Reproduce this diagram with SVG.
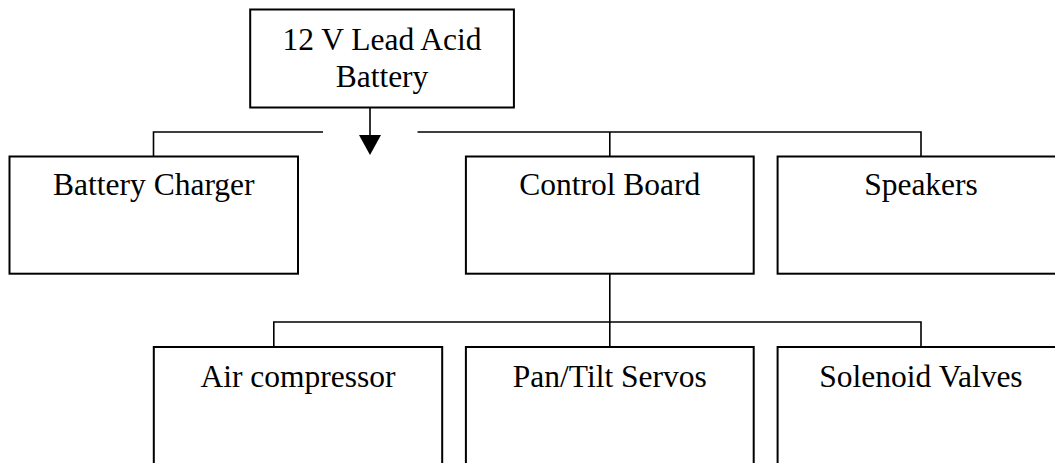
<svg xmlns="http://www.w3.org/2000/svg" width="1055" height="463" viewBox="0 0 1055 463">
<style>
.box{fill:#fff;stroke:#000;stroke-width:2}
.ln{fill:none;stroke:#000;stroke-width:1.6}
text{font-family:"Liberation Serif","Times New Roman",serif;font-size:31.5px;fill:#000;text-anchor:middle}
</style>
<rect width="1055" height="463" fill="#fff"/>
<g id="connectors">
<line class="ln" x1="370" y1="107.5" x2="370" y2="136"/>
<polygon points="359,135 381,135 370,155" fill="#000"/>
<polyline class="ln" points="153.5,156.5 153.5,132 323,132"/>
<polyline class="ln" points="417.5,132 921,132 921,156.5"/>
<line class="ln" x1="609.8" y1="132" x2="609.8" y2="156.5"/>
<line class="ln" x1="609.8" y1="273.7" x2="609.8" y2="347"/>
<polyline class="ln" points="273.8,347 273.8,322 921,322 921,347"/>
</g>
<g id="battery">
<rect class="box" x="250.2" y="9.5" width="263.7" height="98"/>
<text x="382" y="50">12 V Lead Acid</text>
<text x="382" y="87.2">Battery</text>
</g>
<g id="charger">
<rect class="box" x="9.5" y="156.5" width="288.5" height="117.2"/>
<text x="153.8" y="195.4">Battery Charger</text>
</g>
<g id="control">
<rect class="box" x="465.9" y="156.5" width="287.8" height="117.2"/>
<text x="609.8" y="195.4">Control Board</text>
</g>
<g id="speakers">
<rect class="box" x="777.6" y="156.5" width="288" height="117.2"/>
<text x="921" y="195.4">Speakers</text>
</g>
<g id="compressor">
<rect class="box" x="153.8" y="347" width="288.4" height="140"/>
<text x="298" y="387">Air compressor</text>
</g>
<g id="servos">
<rect class="box" x="465.9" y="347" width="287.8" height="140"/>
<text x="609.8" y="387">Pan/Tilt Servos</text>
</g>
<g id="valves">
<rect class="box" x="777.6" y="347" width="288" height="140"/>
<text x="921" y="387">Solenoid Valves</text>
</g>
</svg>
